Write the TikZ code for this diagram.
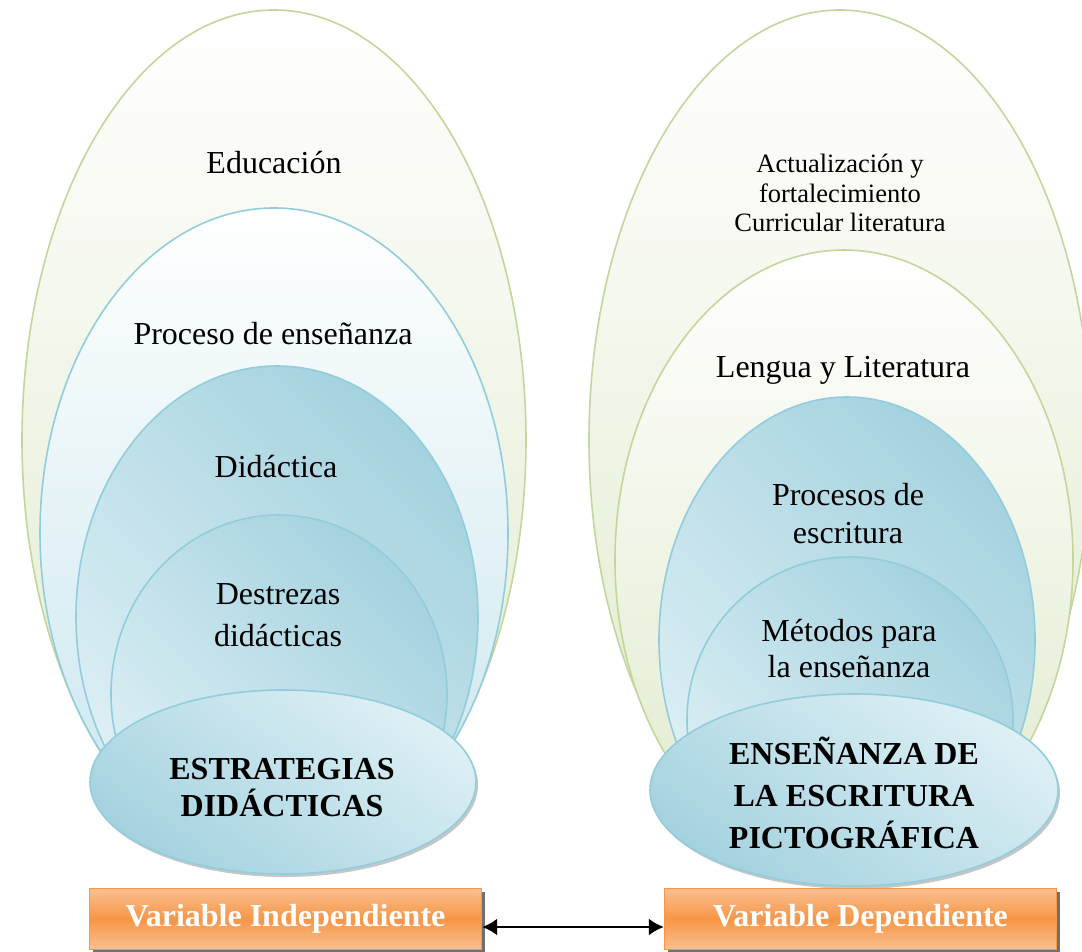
\documentclass[tikz,border=0pt]{standalone}
\usepackage{fontspec}
\setmainfont{Liberation Serif}
\usetikzlibrary{shapes.geometric,shadows,arrows.meta}
\definecolor{verdeborde}{RGB}{195,214,155}
\definecolor{verdefondo}{RGB}{224,234,204}
\definecolor{azulborde}{RGB}{146,205,220}
\definecolor{azulclaro}{RGB}{222,240,245}
\definecolor{azuloscuro}{RGB}{164,210,223}
\definecolor{naranja}{RGB}{247,150,70}
\definecolor{naranjaclaro}{RGB}{250,192,145}

\begin{document}
\begin{tikzpicture}[x=1pt,y=-1pt,
    capa/.style={ellipse, inner sep=0pt, line width=1.6pt},
    verde/.style={capa, draw=verdeborde, top color=white, bottom color=verdefondo},
    claro/.style={capa, draw=azulborde, top color=white, bottom color=azulborde!50},
    azul/.style={capa, draw=azulborde, top color=azuloscuro, bottom color=azulclaro, shading angle=-45},
    base/.style={capa, draw=azulborde, top color=azulclaro, bottom color=azuloscuro, shading angle=-35,
        drop shadow={shadow xshift=2pt, shadow yshift=-3pt, opacity=.45}},
    texto/.style={align=center, inner sep=0pt, font=\fontsize{32}{38}\selectfont},
    cajavar/.style={draw=naranja, line width=1.2pt, top color=naranjaclaro, bottom color=naranjaclaro,
        middle color=naranja, text=white, font=\fontsize{32}{38}\selectfont\bfseries,
        minimum width=392pt, minimum height=61pt,
        drop shadow={shadow xshift=3pt, shadow yshift=-3pt, fill=black!70, opacity=.8}}]
    \useasboundingbox (0,0) rectangle (1082,952);

    \node[verde, minimum width=504pt, minimum height=860pt] (educacion) at (274,440) {};
    \node[claro, minimum width=468pt, minimum height=650pt] (proceso) at (274,533) {};
    \node[azul, minimum width=402pt, minimum height=502pt] (didactica) at (277,617) {};
    \node[azul, minimum width=336pt, minimum height=358pt] (destrezas) at (279,694) {};
    \node[base, minimum width=386pt, minimum height=184pt] (estrategias) at (283,782) {};

    \node[verde, minimum width=502pt, minimum height=860pt] (actualizacion) at (840,440) {};
    \node[verde, minimum width=458pt, minimum height=620pt] (lengua) at (844,560) {};
    \node[azul, minimum width=376pt, minimum height=486pt] (procesos) at (847,640) {};
    \node[azul, minimum width=326pt, minimum height=326pt] (metodos) at (850,720) {};
    \node[base, minimum width=408pt, minimum height=192pt] (ensenanza) at (854,790) {};

    \node[texto] (t-educacion) at (274,163) {Educación};
    \node[texto] (t-proceso) at (273,334) {Proceso de enseñanza};
    \node[texto] (t-didactica) at (276,467) {Didáctica};
    \node[texto, font=\fontsize{32}{42}\selectfont] (t-destrezas) at (278,615) {Destrezas\\didácticas};
    \node[texto, font=\fontsize{32}{37}\selectfont\bfseries] (t-estrategias) at (282,788) {ESTRATEGIAS\\DIDÁCTICAS};

    \node[texto, font=\fontsize{26.5}{29.5}\selectfont] (t-actualizacion) at (840,193) {Actualización y\\fortalecimiento\\Curricular literatura};
    \node[texto] (t-lengua) at (843,370) {Lengua y Literatura};
    \node[texto] (t-procesos) at (848,514) {Procesos de\\escritura};
    \node[texto, font=\fontsize{32}{36}\selectfont] (t-metodos) at (849,649) {Métodos para\\la enseñanza};
    \node[texto, font=\fontsize{32}{42}\selectfont\bfseries] (t-ensenanza) at (854,793) {ENSEÑANZA DE\\LA ESCRITURA\\PICTOGRÁFICA};

    \node[cajavar] (independiente) at (285.5,919) {Variable Independiente};
    \node[cajavar] (dependiente) at (860.5,919) {Variable Dependiente};
    \draw[{Latex[length=15pt,width=17pt]}-{Latex[length=15pt,width=17pt]}, line width=2.6pt]
        ([yshift=-8pt]independiente.east) -- ([yshift=-8pt]dependiente.west);
\end{tikzpicture}
\end{document}
